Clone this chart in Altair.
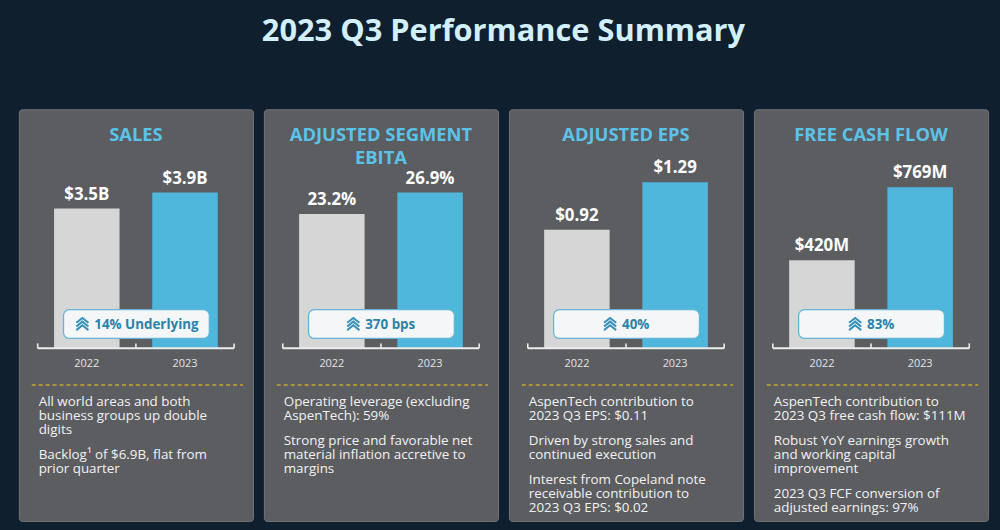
import altair as alt
import pandas as pd

# ---- data -------------------------------------------------------------
years = ["2022", "2023"]

panel_titles = ["SALES", "ADJUSTED SEGMENT\nEBITA", "ADJUSTED EPS", "FREE CASH FLOW"]

sales_bn = [3.5, 3.9]
segment_ebita_pct = [23.2, 26.9]
adjusted_eps = [0.92, 1.29]
free_cash_flow_mn = [420, 769]

badge_texts = ["14% Underlying", "370 bps", "40%", "83%"]

notes = [
    ["All world areas and both\nbusiness groups up double\ndigits",
     "Backlog\u00b9 of $6.9B, flat from\nprior quarter"],
    ["Operating leverage (excluding\nAspenTech): 59%",
     "Strong price and favorable net\nmaterial inflation accretive to\nmargins"],
    ["AspenTech contribution to\n2023 Q3 EPS: $0.11",
     "Driven by strong sales and\ncontinued execution",
     "Interest from Copeland note\nreceivable contribution to\n2023 Q3 EPS: $0.02"],
    ["AspenTech contribution to\n2023 Q3 free cash flow: $111M",
     "Robust YoY earnings growth\nand working capital\nimprovement",
     "2023 Q3 FCF conversion of\nadjusted earnings: 97%"],
]

# ---- styling ----------------------------------------------------------
FONT = "Open Sans"
BG = "#0f1f2e"
PANEL_FILL = "#5b5d61"
PANEL_STROKE = "#707276"
GRAY = "#d6d6d6"
BLUE = "#4fb7dc"
HEAD = "#5cc3e8"
BRACKET = "#ececec"
BADGE_TEXT = "#2a83aa"
GOLD = "#c9a52d"

PANEL_W, PANEL_H = 236, 415
BASE = 241          # pixel row of the bar baseline inside a panel
LINE_H, PARA_GAP = 14, 11

# width factors (em) for the bold badge font, used to centre icon + text
_EM = {" ": 0.26, "%": 0.86, "U": 0.73, "n": 0.64, "d": 0.64, "e": 0.58,
       "r": 0.42, "l": 0.30, "y": 0.55, "i": 0.30, "g": 0.56, "b": 0.64,
       "p": 0.64, "s": 0.50}


def text_width(s, size):
    return sum(_EM.get(c, 0.572 if c.isdigit() else 0.6) for c in s) * size


# chevron-stack glyph for the growth badges
CHEVRONS = ("M-1,-0.2L0,-1L1,-0.2"
            "M-1,0.4L0,-0.4L1,0.4"
            "M-1,1L0,0.2L1,1")

one = pd.DataFrame({"k": [0]})


def panel(title, values, fmt, tall_px, badge, paras):
    df = pd.DataFrame({"year": years, "value": values,
                       "label": [fmt(v) for v in values]})
    u = max(values) / tall_px
    y_scale = alt.Scale(domain=[-(PANEL_H - BASE) * u, BASE * u],
                        nice=False, zero=False)
    x_scale = alt.Scale(domain=years, paddingInner=0, paddingOuter=0.192)
    xenc = alt.X("year:N", scale=x_scale, axis=None)
    yenc = alt.Y("value:Q", scale=y_scale, axis=None)

    heading = alt.Chart(one).mark_text(
        font=FONT, fontSize=18.5, fontWeight="bold", color=HEAD,
        align="center", baseline="alphabetic", lineBreak="\n", lineHeight=23,
    ).encode(x=alt.value(PANEL_W / 2), y=alt.value(32), text=alt.value(title))

    bars = alt.Chart(df).mark_bar(width=alt.RelativeBandSize(0.667)).encode(
        x=xenc, y=yenc, y2=alt.datum(0),
        color=alt.Color("year:N", scale=alt.Scale(domain=years, range=[GRAY, BLUE]),
                        legend=None),
    )
    value_labels = alt.Chart(df).mark_text(
        font=FONT, fontSize=17, fontWeight="bold", color="#ffffff",
        baseline="alphabetic", dy=-9,
    ).encode(x=xenc, y=yenc, text="label:N")

    # bracket under the bars
    bracket = alt.Chart(df).mark_bar(width=alt.RelativeBandSize(1), color=BRACKET).encode(
        x=xenc, y=alt.value(BASE - 1), y2=alt.value(BASE + 1))
    ticks = alt.Chart(df).mark_rule(color=BRACKET, strokeWidth=1.6).encode(
        x=alt.X("year:N", scale=x_scale, axis=None, bandPosition=0),
        y=alt.value(BASE - 5), y2=alt.value(BASE))
    tick_end = alt.Chart(df.tail(1)).mark_rule(color=BRACKET, strokeWidth=1.6).encode(
        x=alt.X("year:N", scale=x_scale, axis=None, bandPosition=1),
        y=alt.value(BASE - 5), y2=alt.value(BASE))
    year_labels = alt.Chart(df).mark_text(
        font=FONT, fontSize=11, color="#e4e4e4", baseline="middle",
    ).encode(x=xenc, y=alt.value(BASE + 16), text="year:N")

    # growth badge
    bx0, bx1, by0, by1 = 45, 192, 202, 231
    cx, cy = (bx0 + bx1) / 2, (by0 + by1) / 2
    tw = text_width(badge, 13.5)
    text_left = cx - (18 + tw) / 2 + 18
    badge_box = alt.Chart(one).mark_rect(
        fill="#f4f6f7", stroke="#62b7d6", strokeWidth=1.3, cornerRadius=6,
    ).encode(x=alt.value(bx0), x2=alt.value(bx1), y=alt.value(by0), y2=alt.value(by1))
    badge_icon = alt.Chart(one).mark_point(
        shape=CHEVRONS, size=150, filled=False, stroke="#3790b6", strokeWidth=2,
        opacity=1,
    ).encode(x=alt.value(text_left - 12), y=alt.value(cy))
    badge_label = alt.Chart(one).mark_text(
        font=FONT, fontSize=13.5, fontWeight="bold", color=BADGE_TEXT,
        align="left", baseline="middle",
    ).encode(x=alt.value(text_left), y=alt.value(cy + 0.5), text=alt.value(badge))

    divider = alt.Chart(one).mark_rule(
        color=GOLD, strokeWidth=1.5, strokeDash=[4, 3],
    ).encode(x=alt.value(13), x2=alt.value(226), y=alt.value(278))

    layers = [heading, bars, value_labels, bracket, ticks, tick_end,
              year_labels, badge_box, badge_icon, badge_label, divider]

    y0 = 299.5
    for p in paras:
        layers.append(alt.Chart(one).mark_text(
            font=FONT, fontSize=13.5, color="#f2f2f2", align="left",
            baseline="alphabetic", lineBreak="\n", lineHeight=LINE_H,
        ).encode(x=alt.value(20), y=alt.value(y0), text=alt.value(p)))
        y0 += p.count("\n") * LINE_H + LINE_H + PARA_GAP

    return alt.layer(*layers).properties(width=PANEL_W, height=PANEL_H)


formatters = [
    lambda v: f"${v}B",
    lambda v: f"{v}%",
    lambda v: f"${v:.2f}",
    lambda v: f"${v:.0f}M",
]
series = [sales_bn, segment_ebita_pct, adjusted_eps, free_cash_flow_mn]
tall_bar_px = [157, 157, 167.5, 162.5]

panels = [
    panel(panel_titles[i], series[i], formatters[i], tall_bar_px[i],
          badge_texts[i], notes[i])
    for i in range(4)
]

chart = alt.hconcat(*panels, spacing=9).properties(
    title=alt.TitleParams(
        text="2023 Q3 Performance Summary", font=FONT, fontSize=31,
        fontWeight="bold", color="#d2f0fb", anchor="middle", offset=61,
    ),
    background=BG,
    padding={"left": 18, "top": 14, "right": 11, "bottom": 9},
).configure_view(
    fill=PANEL_FILL, stroke=PANEL_STROKE, strokeWidth=1, cornerRadius=3,
)

chart.save("out.html", embed_options={"renderer": "svg", "actions": False})
